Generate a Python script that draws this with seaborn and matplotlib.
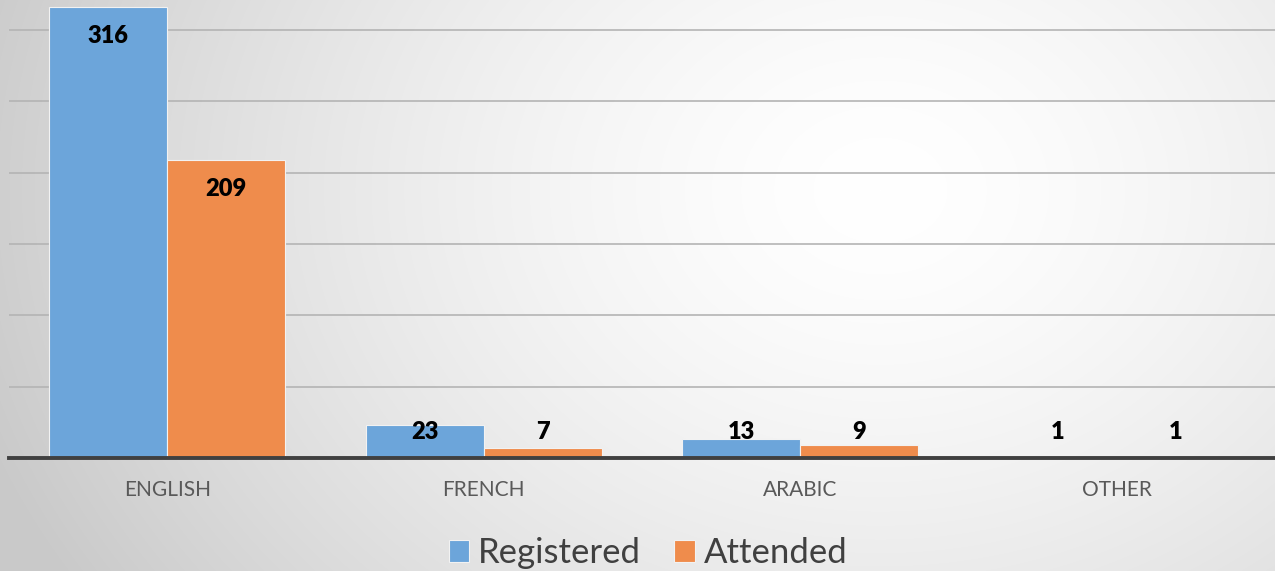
import numpy as np
import pandas as pd
import matplotlib
matplotlib.use("Agg")
import matplotlib.pyplot as plt
import seaborn as sns
from matplotlib.patches import Patch

categories = ["ENGLISH", "FRENCH", "ARABIC", "OTHER"]
registered = [316, 23, 13, 1]
attended = [209, 7, 9, 1]
series_names = ["Registered", "Attended"]
colors = ["#6CA5DA", "#EF8C4C"]

df = pd.DataFrame({
    "category": categories * 2,
    "value": registered + attended,
    "series": [series_names[0]] * 4 + [series_names[1]] * 4,
})

sns.set_theme(style="white")
plt.rcParams["font.family"] = ["Lato", "DejaVu Sans"]

fig = plt.figure(figsize=(12.75, 5.71), dpi=100)

# radial gradient background
bg = fig.add_axes([0, 0, 1, 1], zorder=-10)
W, H = 1275, 571
yy, xx = np.mgrid[0:H, 0:W]
cx, cy = 880, 190
r = np.sqrt(((xx - cx) / 950.0) ** 2 + ((yy - cy) / 750.0) ** 2)
g = 1.0 - 0.21 * np.clip(r, 0, 1) ** 1.5
bg.imshow(np.dstack([g, g, g]), aspect="auto", extent=[0, 1, 0, 1], origin="upper")
bg.axis("off")

ax = fig.add_axes([9 / 1275, 113 / 571, 1 - 9 / 1275, 458 / 571])
ax.patch.set_alpha(0)

sns.barplot(data=df, x="category", y="value", hue="series", palette=colors,
            width=0.746, gap=0, edgecolor="#F2F2F2", linewidth=0.8,
            saturation=1, ax=ax, legend=False, zorder=3)

ax.set_xlim(-0.5, 3.5)
ax.set_ylim(0, 321)
ax.set_yticks([50, 100, 150, 200, 250, 300])
ax.yaxis.grid(True, color="#B4B4B4", linewidth=1.2, zorder=0)
ax.set_axisbelow(True)
ax.tick_params(axis="y", left=False, labelleft=False)
ax.tick_params(axis="x", bottom=False, pad=10, labelsize=15, labelcolor="#595959")
ax.set_xlabel("")
ax.set_ylabel("")
for s in ["top", "right", "left"]:
    ax.spines[s].set_visible(False)
ax.spines["bottom"].set_color("#404040")
ax.spines["bottom"].set_linewidth(2.8)
ax.spines["bottom"].set_zorder(5)

for p in ax.patches:
    h = p.get_height()
    if np.isnan(h) or p.get_width() == 0:
        continue
    xc = p.get_x() + p.get_width() / 2
    y = max(h - 20.3, 18.2)
    ax.text(xc, y, f"{int(round(h))}", ha="center", va="center",
            fontsize=17, fontweight="heavy", color="black", zorder=6)

handles = [Patch(facecolor=c, edgecolor="#F2F2F2", linewidth=0.8) for c in colors]
fig.legend(handles, series_names, loc="center", bbox_to_anchor=(648 / 1275, 1 - 553 / 571),
           ncol=2, frameon=False, fontsize=25, handlelength=0.6, handleheight=0.6,
           handletextpad=0.25, columnspacing=0.95, labelcolor="#404040")

fig.savefig("out.png", dpi=100)
